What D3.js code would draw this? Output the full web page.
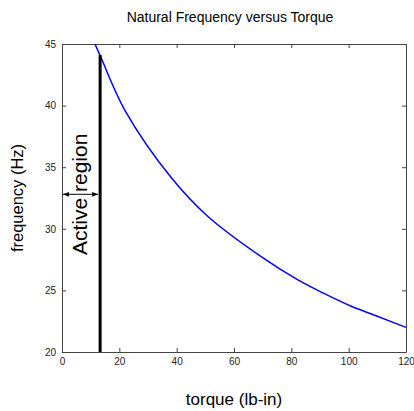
<!DOCTYPE html>
<html>
<head>
<meta charset="utf-8">
<script src="https://cdn.jsdelivr.net/npm/d3@7"></script>
<style>
  html, body { margin: 0; padding: 0; background: #fff; }
  svg { display: block; }
  text { font-family: "Liberation Sans", Arial, sans-serif; }
</style>
</head>
<body>
<svg id="chart" width="414" height="411"></svg>
<script>
// Data
const torque    = [11.5, 13.6, 22, 38.3, 50.9, 69.1, 82.3, 91, 100.5, 110, 120];
const frequency = [45, 43.9, 39.6, 34.1, 31.0, 27.8, 25.85, 24.8, 23.75, 22.9, 22.0];
const xTicks = [0, 20, 40, 60, 80, 100, 120];
const yTicks = [20, 25, 30, 35, 40, 45];
const activeTorque = [13.3];
const activeTop = [44.1];
const arrowFreq = [32.8];

const svg = d3.select("#chart");
const L = 62, R = 406, T = 44, B = 352;
const x = d3.scaleLinear().domain([0, 120]).range([L, R]);
const y = d3.scaleLinear().domain([20, 45]).range([B, T]);

// title and labels
svg.append("text").attr("x", 230).attr("y", 22).attr("text-anchor", "middle")
  .attr("font-size", 14).attr("fill", "#000").text("Natural Frequency versus Torque");
svg.append("text").attr("x", 234).attr("y", 405).attr("text-anchor", "middle")
  .attr("font-size", 17).attr("fill", "#000").text("torque (lb-in)");
svg.append("text").attr("transform", "translate(23,198) rotate(-90)").attr("text-anchor", "middle")
  .attr("font-size", 16.5).attr("fill", "#000").text("frequency (Hz)");

// axes
const tickLen = 4;
const axB = svg.append("g").attr("transform", `translate(0,${B})`)
  .call(d3.axisBottom(x).tickValues(xTicks).tickSizeInner(-tickLen).tickSizeOuter(0).tickPadding(6));
const axT = svg.append("g").attr("transform", `translate(0,${T})`)
  .call(d3.axisTop(x).tickValues(xTicks).tickSizeInner(-tickLen).tickSizeOuter(0).tickFormat(""));
const axL = svg.append("g").attr("transform", `translate(${L},0)`)
  .call(d3.axisLeft(y).tickValues(yTicks).tickSizeInner(-tickLen).tickSizeOuter(0).tickPadding(6));
const axR = svg.append("g").attr("transform", `translate(${R},0)`)
  .call(d3.axisRight(y).tickValues(yTicks).tickSizeInner(-tickLen).tickSizeOuter(0).tickFormat(""));
[axB, axT, axL, axR].forEach(a => {
  a.select(".domain").attr("stroke", "#444");
  a.selectAll(".tick line").attr("stroke", "#444");
  a.selectAll(".tick text").attr("font-size", 10).attr("fill", "#222")
    .attr("font-family", "'Liberation Sans Narrow', 'Liberation Sans', Arial, sans-serif");
});

// curve
const line = d3.line().x((d, i) => x(torque[i])).y(d => y(d)).curve(d3.curveCatmullRom.alpha(0.5));
svg.append("path").datum(frequency).attr("d", line)
  .attr("fill", "none").attr("stroke", "#0000ff").attr("stroke-width", 1.5);

// active region vertical line
svg.selectAll(".active").data(activeTorque).enter().append("line")
  .attr("x1", d => x(d)).attr("x2", d => x(d))
  .attr("y1", y(20)).attr("y2", y(activeTop[0]))
  .attr("stroke", "#000").attr("stroke-width", 3);

// double arrow
const defs = svg.append("defs");
defs.append("marker").attr("id", "ah").attr("viewBox", "0 0 10 10").attr("refX", 10).attr("refY", 5)
  .attr("markerWidth", 6).attr("markerHeight", 6).attr("orient", "auto-start-reverse")
  .append("path").attr("d", "M0,1 L10,5 L0,9 Z").attr("fill", "#000");
svg.append("line").attr("x1", x(0) + 1).attr("x2", x(activeTorque[0]) - 2)
  .attr("y1", y(arrowFreq[0])).attr("y2", y(arrowFreq[0]))
  .attr("stroke", "#000").attr("stroke-width", 1)
  .attr("marker-start", "url(#ah)").attr("marker-end", "url(#ah)");

// rotated label
svg.append("text").attr("transform", `translate(87,${y(arrowFreq[0])}) rotate(-90)`)
  .attr("text-anchor", "middle").attr("font-size", 21).attr("fill", "#000").text("Active region");
</script>
</body>
</html>
